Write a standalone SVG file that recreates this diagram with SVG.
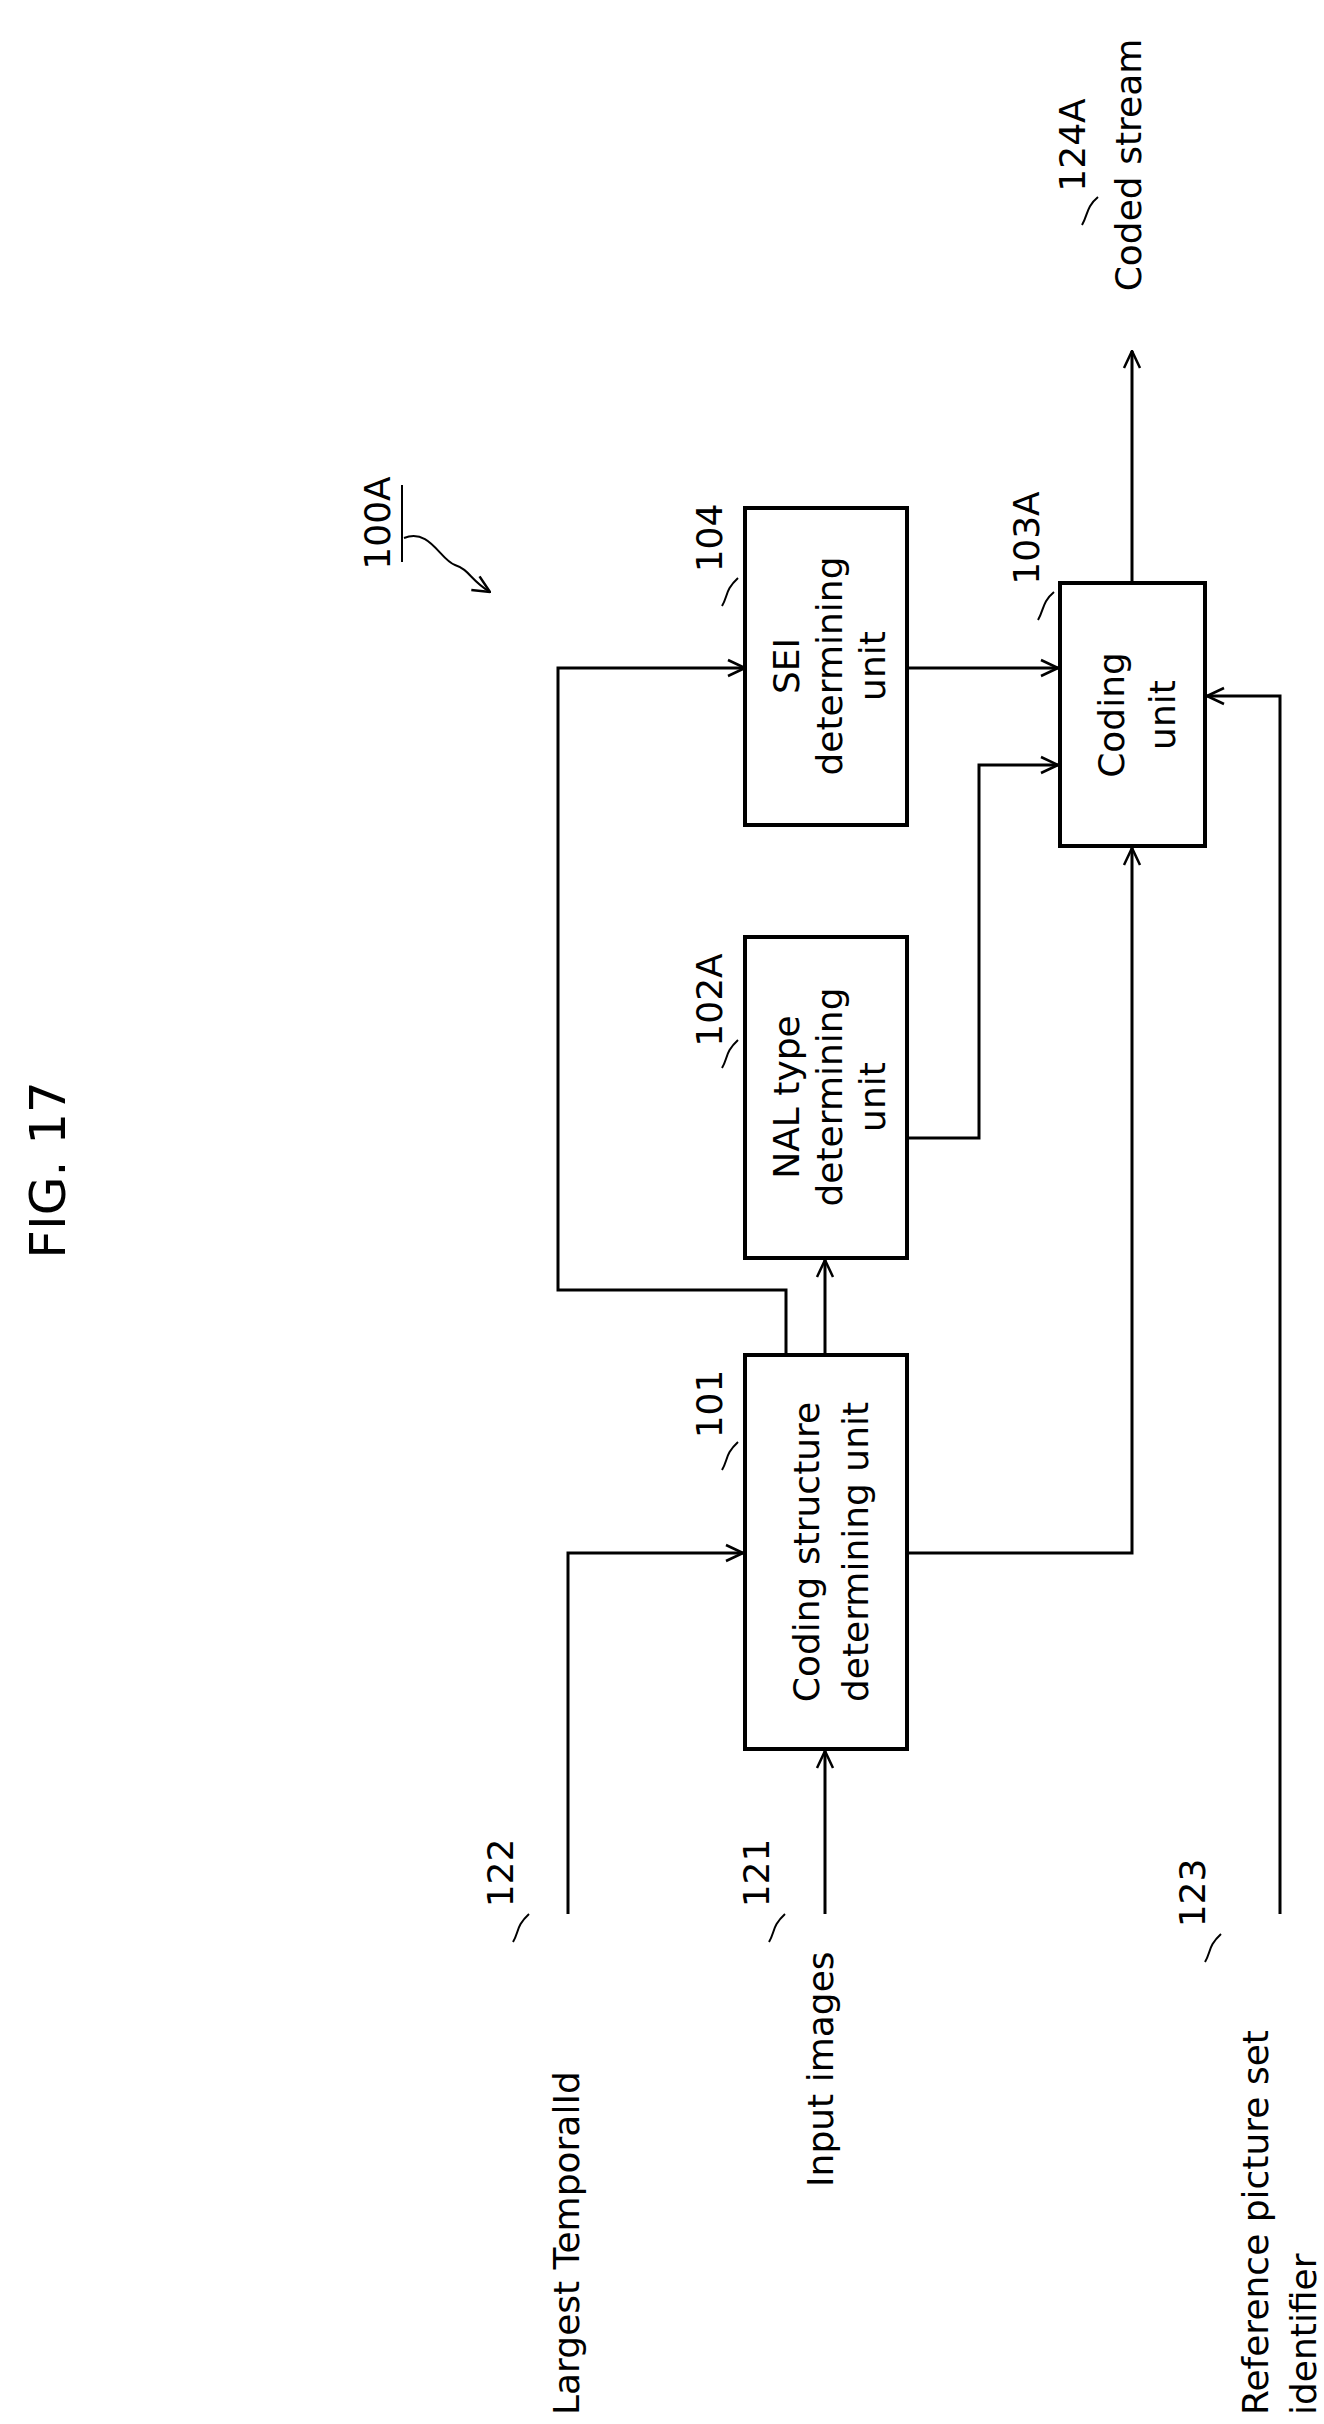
<svg xmlns="http://www.w3.org/2000/svg" width="1324" height="2424" viewBox="0 0 1324 2424">
<style>
text{font-family:"DejaVu Sans","Liberation Sans",sans-serif;font-size:36px;fill:#000;text-anchor:middle;dominant-baseline:central}
.box{fill:#fff;stroke:#000;stroke-width:4}
.ln{fill:none;stroke:#000;stroke-width:3}
.ld{fill:none;stroke:#000;stroke-width:2}
</style>
<defs>
<marker id="ah" viewBox="0 0 20 20" refX="19" refY="10" markerWidth="20" markerHeight="20" markerUnits="userSpaceOnUse" orient="auto">
<path d="M2,2 L19,10 L2,18" fill="none" stroke="#000" stroke-width="2.5"/>
</marker>
</defs>
<text transform="translate(48,1170) rotate(-90)" style="font-size:50px">FIG. 17</text>
<g id="label100A">
<text transform="translate(377,523) rotate(-90)">100A</text>
<line class="ld" x1="402" y1="485" x2="402" y2="562"/>
<path class="ld" d="M404,538 C430,528 440,560 455,565 C470,570 470,580 490,592" marker-end="url(#ah)"/>
</g>
<g id="connectors">
<polyline class="ln" points="786,1355 786,1290 558,1290 558,668 745,668" marker-end="url(#ah)"/>
<line class="ln" x1="825" y1="1355" x2="825" y2="1260" marker-end="url(#ah)"/>
<polyline class="ln" points="907,1138 979,1138 979,765 1058,765" marker-end="url(#ah)"/>
<line class="ln" x1="907" y1="668" x2="1058" y2="668" marker-end="url(#ah)"/>
<polyline class="ln" points="907,1553 1132,1553 1132,848" marker-end="url(#ah)"/>
<line class="ln" x1="1132" y1="583" x2="1132" y2="351" marker-end="url(#ah)"/>
<polyline class="ln" points="1280,1914 1280,696 1207,696" marker-end="url(#ah)"/>
<polyline class="ln" points="568,1914 568,1553 743,1553" marker-end="url(#ah)"/>
<line class="ln" x1="825" y1="1914" x2="825" y2="1751" marker-end="url(#ah)"/>
</g>
<g id="n104">
<rect class="box" x="745" y="508" width="162" height="317"/>
<text transform="translate(786,666) rotate(-90)">SEI</text>
<text transform="translate(829,666) rotate(-90)">determining</text>
<text transform="translate(872,666) rotate(-90)">unit</text>
<text transform="translate(709,538) rotate(-90)">104</text>
<path class="ld" d="M722,606 C728,596 725,590 738,578"/>
</g>
<g id="n103A">
<rect class="box" x="1060" y="583" width="145" height="263"/>
<text transform="translate(1111,715) rotate(-90)">Coding</text>
<text transform="translate(1162,715) rotate(-90)">unit</text>
<text transform="translate(1026,538) rotate(-90)">103A</text>
<path class="ld" d="M1038,620 C1044,610 1042,602 1054,592"/>
</g>
<g id="n124A">
<text transform="translate(1072,145) rotate(-90)">124A</text>
<text transform="translate(1128,165) rotate(-90)">Coded stream</text>
<path class="ld" d="M1082,225 C1088,215 1086,207 1098,197"/>
</g>
<g id="n102A">
<rect class="box" x="745" y="937" width="162" height="321"/>
<text transform="translate(786,1097) rotate(-90)">NAL type</text>
<text transform="translate(829,1097) rotate(-90)">determining</text>
<text transform="translate(872,1097) rotate(-90)">unit</text>
<text transform="translate(709,1000) rotate(-90)">102A</text>
<path class="ld" d="M722,1068 C728,1058 725,1052 738,1040"/>
</g>
<g id="n101">
<rect class="box" x="745" y="1355" width="162" height="394"/>
<text transform="translate(806,1552) rotate(-90)">Coding structure</text>
<text transform="translate(855,1552) rotate(-90)">determining unit</text>
<text transform="translate(709,1404) rotate(-90)">101</text>
<path class="ld" d="M722,1470 C728,1460 725,1454 738,1442"/>
</g>
<g id="n122">
<text transform="translate(500,1873) rotate(-90)">122</text>
<path class="ld" d="M513,1942 C519,1932 516,1926 529,1914"/>
<text transform="translate(566,2415) rotate(-90)" style="text-anchor:start">Largest TemporalId</text>
</g>
<g id="n121">
<text transform="translate(756,1873) rotate(-90)">121</text>
<path class="ld" d="M769,1942 C775,1932 772,1926 785,1914"/>
<text transform="translate(820,2187) rotate(-90)" style="text-anchor:start">Input images</text>
</g>
<g id="n123">
<text transform="translate(1192,1893) rotate(-90)">123</text>
<path class="ld" d="M1205,1962 C1211,1952 1208,1946 1221,1934"/>
<text transform="translate(1255,2415) rotate(-90)" style="text-anchor:start">Reference picture set</text>
<text transform="translate(1303,2415) rotate(-90)" style="text-anchor:start">identifier</text>
</g>
</svg>
